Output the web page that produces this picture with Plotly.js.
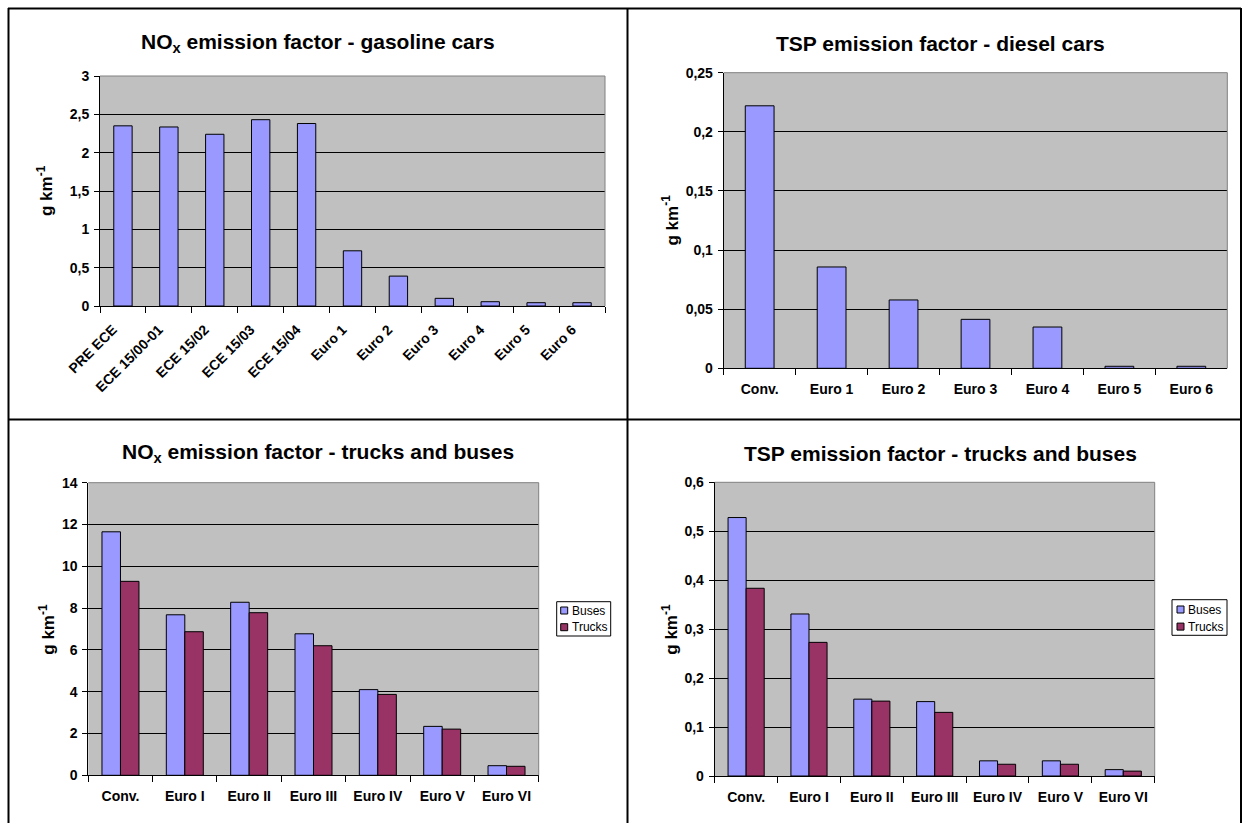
<!DOCTYPE html>
<html><head><meta charset="utf-8">
<script src="https://cdn.plot.ly/plotly-3.0.1.min.js"></script>
<style>html,body{margin:0;padding:0;background:#fff}</style>
</head><body><div id="chart" style="width:1244px;height:823px"></div>
<script>
const gasCategories = ["PRE ECE","ECE 15/00-01","ECE 15/02","ECE 15/03","ECE 15/04","Euro 1","Euro 2","Euro 3","Euro 4","Euro 5","Euro 6"];
const gasNox = [2.35,2.335,2.24,2.43,2.38,0.72,0.39,0.10,0.056,0.043,0.043];
const dieselCategories = ["Conv.","Euro 1","Euro 2","Euro 3","Euro 4","Euro 5","Euro 6"];
const dieselTsp = [0.222,0.0857,0.0578,0.0414,0.0349,0.0017,0.0017];
const hdvCategories = ["Conv.","Euro I","Euro II","Euro III","Euro IV","Euro V","Euro VI"];
const busesNox = [11.65,7.68,8.28,6.77,4.1,2.34,0.46];
const trucksNox = [9.28,6.87,7.78,6.2,3.87,2.21,0.43];
const busesTsp = [0.528,0.331,0.157,0.152,0.031,0.031,0.013];
const trucksTsp = [0.3835,0.273,0.153,0.130,0.024,0.024,0.010];
const seriesNames = ["Buses","Trucks"];
const seriesColors = ["#9999FF","#993366"];

const W = 1244, H = 823;
const fx = p => p / W;
const fy = p => 1 - p / H;
const FONT = "Liberation Sans, Arial, sans-serif";
const outline = {color:"#000", width:1};

const traces = [
  {type:"bar", x:gasCategories, y:gasNox, xaxis:"x", yaxis:"y", width:0.4,
   marker:{color:seriesColors[0], line:outline}, showlegend:false, name:"NOx"},
  {type:"bar", x:dieselCategories, y:dieselTsp, xaxis:"x2", yaxis:"y2", width:0.4,
   marker:{color:seriesColors[0], line:outline}, showlegend:false, name:"TSP"},
  {type:"bar", x:hdvCategories, y:busesNox, xaxis:"x3", yaxis:"y3", name:seriesNames[0],
   marker:{color:seriesColors[0], line:outline}, showlegend:false},
  {type:"bar", x:hdvCategories, y:trucksNox, xaxis:"x3", yaxis:"y3", name:seriesNames[1],
   marker:{color:seriesColors[1], line:outline}, showlegend:false},
  {type:"bar", x:hdvCategories, y:busesTsp, xaxis:"x4", yaxis:"y4", name:seriesNames[0],
   marker:{color:seriesColors[0], line:outline}, showlegend:false},
  {type:"bar", x:hdvCategories, y:trucksTsp, xaxis:"x4", yaxis:"y4", name:seriesNames[1],
   marker:{color:seriesColors[1], line:outline}, showlegend:false}
];

function xax(d, anchor, angle) {
  return {domain:[fx(d[0]), fx(d[1])], anchor:anchor, type:"category",
    tickson:"boundaries", ticks:"outside", ticklen:6, tickcolor:"#000", tickwidth:1,
    showline:true, linecolor:"#000", linewidth:1, showgrid:false, zeroline:false,
    tickangle:angle, ticklabelstandoff: angle ? 9 : 8, ticklabelshift: angle ? -10 : 0,
    tickfont:{family:FONT, size:14, color:"#000", weight:"bold"}, fixedrange:true};
}
function yax(d, anchor, range, dtick) {
  return {domain:[fy(d[1]), fy(d[0])], anchor:anchor, range:range, dtick:dtick,
    ticks:"outside", ticklen:5, tickcolor:"#000", tickwidth:1,
    showline:true, linecolor:"#000", linewidth:1, showgrid:true, gridcolor:"#000", gridwidth:1,
    zeroline:false, ticklabelstandoff:2,
    tickfont:{family:FONT, size:14, color:"#000", weight:"bold"}, fixedrange:true};
}

const titleFont = {family:FONT, size:21, color:"#000", weight:"bold"};
const axTitleFont = {family:FONT, size:17, color:"#000", weight:"bold"};
function title(text, x, y) {
  return {text:text, x:fx(x), y:fy(y), xref:"paper", yref:"paper", showarrow:false,
    xanchor:"center", yanchor:"middle", font:titleFont};
}
function ytitle(x, y) {
  return {text:"g km<sup>-1</sup>", x:fx(x), y:fy(y), xref:"paper", yref:"paper", showarrow:false,
    textangle:-90, xanchor:"center", yanchor:"middle", font:axTitleFont};
}
function plotBorder(n) {
  const xr = n === 1 ? "x domain" : "x" + n + " domain";
  const yr = n === 1 ? "y domain" : "y" + n + " domain";
  return [
    {type:"line", xref:xr, yref:yr, x0:0, x1:1, y0:1, y1:1, line:{color:"#808080", width:1}, layer:"above"},
    {type:"line", xref:xr, yref:yr, x0:1, x1:1, y0:0, y1:1, line:{color:"#808080", width:1}, layer:"above"}
  ];
}
function frameLine(x0, y0, x1, y1) {
  return {type:"line", xref:"paper", yref:"paper", x0:fx(x0), y0:fy(y0), x1:fx(x1), y1:fy(y1),
    line:{color:"#000", width:2}, layer:"above"};
}
// small legend box: [left, top, right, bottom], square left x, text left x, item centre ys
function legendBox(box, sqX, txX, ys) {
  const shapes = [{type:"rect", xref:"paper", yref:"paper", x0:fx(box[0]), x1:fx(box[2]),
    y0:fy(box[3]), y1:fy(box[1]), line:{color:"#000", width:1}, fillcolor:"#fff", layer:"above"}];
  const ann = [];
  seriesNames.forEach((nm, i) => {
    shapes.push({type:"rect", xref:"paper", yref:"paper", x0:fx(sqX), x1:fx(sqX + 7),
      y0:fy(ys[i] + 3.5), y1:fy(ys[i] - 3.5), line:{color:"#000", width:1},
      fillcolor:seriesColors[i], layer:"above"});
    ann.push({text:nm, x:fx(txX), y:fy(ys[i]), xref:"paper", yref:"paper", showarrow:false,
      xanchor:"left", yanchor:"middle", font:{family:FONT, size:12, color:"#000"}});
  });
  return {shapes, ann};
}
const lg1 = legendBox([556.7, 601.7, 610.7, 636], 560.7, 569.5, [610.5, 627.2]);
const lg2 = legendBox([1172, 599.7, 1227, 635.3], 1177, 1185.5, [609.5, 626.6]);

const layout = {
  width:W, height:H, margin:{l:0, r:0, t:0, b:0},
  paper_bgcolor:"#fff", plot_bgcolor:"#C0C0C0",
  separators:", ", barmode:"group", bargap:0.425, bargroupgap:0,
  font:{family:FONT, color:"#000"}, showlegend:false,
  xaxis: xax([100, 605], "y", -45),
  yaxis: yax([76, 306], "x", [0, 3], 0.5),
  xaxis2: xax([723.7, 1227.3], "y2", 0),
  yaxis2: yax([72.7, 368.3], "x2", [0, 0.25], 0.05),
  xaxis3: xax([88.3, 538.7], "y3", 0),
  yaxis3: yax([482.7, 775.3], "x3", [0, 14], 2),
  xaxis4: xax([714.7, 1154.7], "y4", 0),
  yaxis4: yax([482.3, 776], "x4", [0, 0.6], 0.1),
  annotations: [
    title("NO<sub>x</sub> emission factor - gasoline cars", 318, 43),
    title("TSP emission factor - diesel cars", 940, 43),
    title("NO<sub>x</sub> emission factor - trucks and buses", 318, 453),
    title("TSP emission factor - trucks and buses", 940.5, 453.5),
    ytitle(45, 191), ytitle(671, 220.5), ytitle(46.7, 629), ytitle(669.7, 629)
  ].concat(lg1.ann, lg2.ann),
  shapes: [].concat(plotBorder(1), plotBorder(2), plotBorder(3), plotBorder(4), [
    frameLine(8, 8.5, 1241, 8.5),
    frameLine(8.5, 8, 8.5, 830),
    frameLine(1241, 8, 1241, 830),
    frameLine(627.5, 8, 627.5, 830),
    frameLine(8, 419.5, 1241, 419.5)
  ], lg1.shapes, lg2.shapes)
};

Plotly.newPlot("chart", traces, layout, {displayModeBar:false, staticPlot:true});
</script>
</body></html>
